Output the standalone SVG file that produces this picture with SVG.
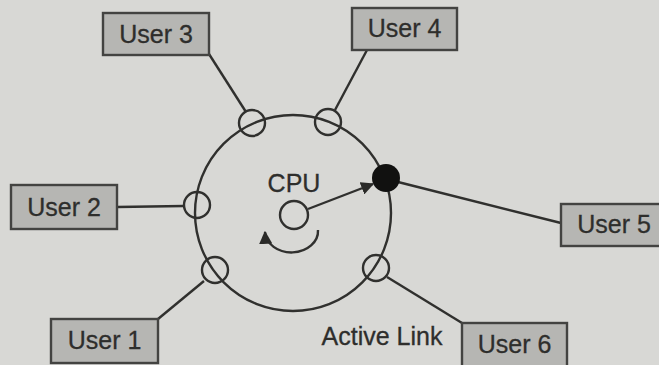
<svg xmlns="http://www.w3.org/2000/svg" width="659" height="365" viewBox="0 0 659 365">
<defs>
<marker id="ah" viewBox="0 0 10 10" refX="9" refY="5" markerWidth="5.5" markerHeight="5.5" orient="auto" markerUnits="strokeWidth">
<path d="M0 0 L10 5 L0 10 z" fill="#2a2a28"/>
</marker>
</defs>
<style>
.box{fill:#b6b6b3;stroke:#434341;stroke-width:2.4}
.lbl{font-family:"Liberation Sans",Arial,sans-serif;font-size:25px;fill:#2e2e2c;stroke:#2e2e2c;stroke-width:0.3;text-anchor:middle}
.ln{stroke:#30302e;stroke-width:2.4;fill:none}
.nd{fill:none;stroke:#30302e;stroke-width:2.4}
</style>
<rect width="659" height="365" fill="#d8d8d5"/>
<g id="ring">
<circle cx="293" cy="213" r="98" class="ln"/>
</g>
<g id="connectors">
<line x1="209" y1="54" x2="246" y2="112" class="ln"/>
<line x1="367" y1="50" x2="335" y2="110" class="ln"/>
<line x1="117" y1="207" x2="184" y2="206" class="ln"/>
<line x1="158" y1="319" x2="204" y2="281" class="ln"/>
<line x1="398" y1="182" x2="561" y2="223" class="ln"/>
<line x1="387" y1="277" x2="462" y2="323" class="ln"/>
<line x1="308" y1="209" x2="373" y2="184" class="ln" marker-end="url(#ah)"/>
<path d="M318 230 A26 21 0 0 1 265 232" class="ln" marker-end="url(#ah)"/>
</g>
<g id="ports">
<circle cx="252" cy="123" r="13" class="nd"/>
<circle cx="328" cy="122" r="13" class="nd"/>
<circle cx="197" cy="205" r="13" class="nd"/>
<circle cx="215" cy="270" r="13" class="nd"/>
<circle cx="376" cy="268" r="13" class="nd"/>
<circle cx="386" cy="178" r="14" fill="#111110"/>
</g>
<g id="cpu">
<circle cx="294" cy="215" r="14" class="nd"/>
<text x="294" y="192" class="lbl">CPU</text>
</g>
<g id="user1"><rect x="51" y="319" width="107" height="44" class="box"/><text x="104.5" y="349" class="lbl">User 1</text></g>
<g id="user2"><rect x="11" y="185" width="106" height="44" class="box"/><text x="64" y="216" class="lbl">User 2</text></g>
<g id="user3"><rect x="103" y="13" width="106" height="42" class="box"/><text x="156" y="43" class="lbl">User 3</text></g>
<g id="user4"><rect x="352" y="8" width="105" height="42" class="box"/><text x="404.5" y="37" class="lbl">User 4</text></g>
<g id="user5"><rect x="561" y="204" width="106" height="42" class="box"/><text x="614" y="233" class="lbl">User 5</text></g>
<g id="user6"><rect x="462" y="323" width="105" height="44" class="box"/><text x="514.5" y="353" class="lbl">User 6</text></g>
<g id="active-link"><text x="382" y="345" class="lbl">Active Link</text></g>
</svg>
